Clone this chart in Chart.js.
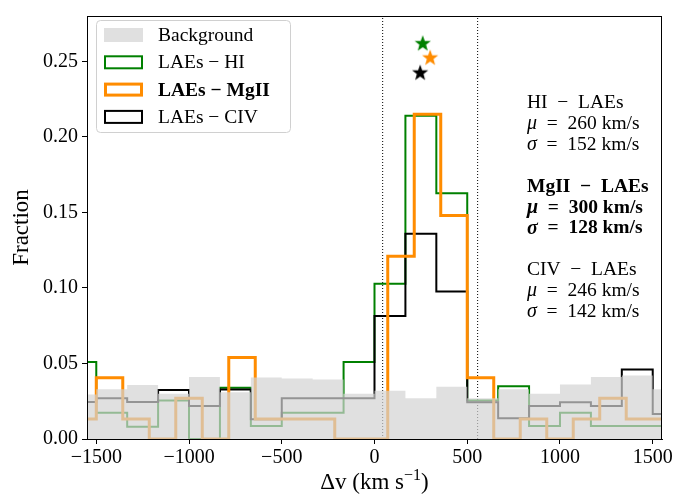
<!DOCTYPE html>
<html lang="en">
<head>
<meta charset="UTF-8" />
<title>LAE velocity offsets</title>
<script src="https://cdn.jsdelivr.net/npm/chart.js"></script>
<style>
  * { margin: 0; padding: 0; }
  html, body { width: 676px; height: 497px; background: #fff; overflow: hidden; }
  #wrap { position: relative; width: 676px; height: 497px; }
</style>
</head>
<body>
<div id="wrap"><canvas id="chart" width="676" height="497"></canvas></div>
<script>
// histogram bins: 166.7 km/s for Background, HI and CIV; 142.9 km/s for MgII
const wideStart = -1666.67, wideWidth = 3000 / 18;
const mgStart = -1642.86, mgWidth = 3000 / 21;

const bgFrac  = [0.0295, 0.033, 0.0357, 0.030, 0.041, 0.031, 0.0407, 0.040, 0.0394, 0.030,
                 0.032, 0.027, 0.0346, 0.027, 0.033, 0.030, 0.036, 0.041, 0.042, 0.033];
const hiFrac  = [0.051, 0.0174, 0.0081, 0.0255, 0, 0.034, 0.0086, 0.0174, 0.0174, 0.051,
                 0.1028, 0.214, 0.1627, 0.0255, 0.035, 0.0086, 0.0174, 0.0086, 0.0086, 0.0086];
const civFrac = [0.0245, 0.027, 0.0245, 0.0324, 0.0218, 0.0328, 0.013, 0.0269, 0.0269, 0.0269,
                 0.0815, 0.1359, 0.0977, 0.0244, 0.0137, 0.0218, 0.0244, 0.0218, 0.046, 0.0165];
const mgFrac  = [0.0132, 0.0405, 0.0132, 0, 0.0269, 0, 0.054, 0.0133, 0.0133, 0.0133, 0, 0,
                 0.121, 0.215, 0.148, 0.0405, 0, 0.0132, 0, 0.0132, 0.0269, 0.0132, 0.0132];

const xTicks = [-1500, -1000, -500, 0, 500, 1000, 1500];
const yTicks = [0, 0.05, 0.10, 0.15, 0.20, 0.25];

// mean offsets (stars) and MgII 2-sigma window (dotted lines)
const lineNames = ['HI', 'MgII', 'CIV'];
const meanV  = [260, 300, 246];
const sigmaV = [152, 128, 142];
const starY  = [0.262, 0.2525, 0.2426];
const windowV = [44, 556];

const SERIF = "'Liberation Serif', 'DejaVu Serif', serif";
const BG_FILL = 'rgba(211,211,211,0.7)';

function steps(start, width, vals) {
  const pts = vals.map((v, i) => ({ x: start + i * width, y: v }));
  pts.push({ x: start + vals.length * width, y: vals[vals.length - 1] });
  return pts;
}

function starImage(color) {
  const c = document.createElement('canvas');
  c.width = c.height = 18;
  const g = c.getContext('2d');
  g.beginPath();
  for (let i = 0; i < 10; i++) {
    const r = i % 2 ? 3.5 : 8.5;
    const a = -Math.PI / 2 + i * Math.PI / 5;
    g.lineTo(9 + r * Math.cos(a), 9.5 + r * Math.sin(a));
  }
  g.closePath();
  g.fillStyle = color;
  g.fill();
  return c;
}

const stepStyle = { stepped: true, pointRadius: 0, fill: false, tension: 0 };

const legendItems = [
  { label: 'Background', fill: BG_FILL },
  { label: 'LAEs − HI', color: 'green', width: 2 },
  { label: 'LAEs − MgII', color: 'darkorange', width: 3, bold: true },
  { label: 'LAEs − CIV', color: 'black', width: 2 }
];

// draws a row of [text, fontStyle, size, raise] pieces starting at x
function runs(ctx, x, y, parts) {
  parts.forEach(p => {
    ctx.font = p[1] + ' ' + p[2] + 'px ' + SERIF;
    ctx.fillText(p[0], x, y - (p[3] || 0));
    x += ctx.measureText(p[0]).width;
  });
  return x;
}
function runsWidth(ctx, parts) {
  let w = 0;
  parts.forEach(p => { ctx.font = p[1] + ' ' + p[2] + 'px ' + SERIF; w += ctx.measureText(p[0]).width; });
  return w;
}

// frame, legend box, stats text and x-axis label
const overlay = {
  id: 'overlay',
  afterDraw(chart) {
    const ctx = chart.ctx, a = chart.chartArea;
    ctx.save();
    ctx.strokeStyle = '#000';
    ctx.lineWidth = 1;
    ctx.strokeRect(a.left + 0.5, a.top + 0.5, a.right - a.left - 1, a.bottom - a.top);

    // legend
    ctx.fillStyle = 'rgba(255,255,255,0.8)';
    ctx.strokeStyle = '#d0d0d0';
    ctx.beginPath();
    ctx.roundRect(96.5, 20.5, 194, 112, 4);
    ctx.fill();
    ctx.stroke();
    legendItems.forEach((it, i) => {
      const cy = 35 + i * 27.3;
      if (it.fill) {
        ctx.fillStyle = it.fill;
        ctx.fillRect(104, cy - 7, 39, 14);
      } else {
        ctx.strokeStyle = it.color;
        ctx.lineWidth = it.width;
        ctx.strokeRect(104 + it.width / 2, cy - 7 + it.width / 2, 39 - it.width, 14 - it.width);
      }
      ctx.fillStyle = '#000';
      ctx.font = (it.bold ? 'bold ' : '') + '19.5px ' + SERIF;
      ctx.textBaseline = 'middle';
      ctx.textAlign = 'left';
      ctx.fillText(it.label, 158, cy + 1);
    });

    // stats block
    ctx.textBaseline = 'middle';
    lineNames.forEach((name, k) => {
      const b = name === 'MgII' ? 'bold' : '';
      const y0 = 103 + k * 4 * 20.9;
      runs(ctx, 527, y0, [[name + '  −  LAEs', b, 19.5]]);
      runs(ctx, 527, y0 + 20.9, [['μ', 'italic ' + b, 20], ['  =  ' + meanV[k] + ' km/s', b, 19.5]]);
      runs(ctx, 527, y0 + 41.8, [['σ', 'italic ' + b, 20], ['  =  ' + sigmaV[k] + ' km/s', b, 19.5]]);
    });

    // x-axis label with superscript
    const xl = [['Δv (km s', '', 23], ['−1', '', 16, 9], [')', '', 23]];
    ctx.textBaseline = 'alphabetic';
    runs(ctx, (a.left + a.right) / 2 - runsWidth(ctx, xl) / 2, 489, xl);
    ctx.restore();
  }
};

const vline = v => ({
  type: 'line',
  data: [{ x: v, y: 0 }, { x: v, y: 0.28 }],
  borderColor: '#000', borderWidth: 1, borderDash: [1, 2],
  pointRadius: 0, fill: false, order: 5
});

const datasets = [
  Object.assign({ label: 'Background', data: steps(wideStart, wideWidth, bgFrac),
    borderWidth: 0, borderColor: 'rgba(0,0,0,0)', backgroundColor: BG_FILL, order: 0 }, stepStyle, { fill: 'origin' }),
  Object.assign({ label: 'LAEs − HI', data: steps(wideStart, wideWidth, hiFrac),
    borderColor: 'green', borderWidth: 2, order: 3 }, stepStyle),
  Object.assign({ label: 'LAEs − CIV', data: steps(wideStart, wideWidth, civFrac),
    borderColor: '#000', borderWidth: 2, order: 2 }, stepStyle),
  Object.assign({ label: 'LAEs − MgII', data: steps(mgStart, mgWidth, mgFrac),
    borderColor: 'darkorange', borderWidth: 3, order: 1 }, stepStyle),
  vline(windowV[0]),
  vline(windowV[1])
];
['green', 'darkorange', '#000'].forEach((c, k) => {
  datasets.push({
    type: 'scatter',
    data: [{ x: meanV[k], y: starY[k] }],
    pointStyle: starImage(c), pointRadius: 9, order: -1
  });
});

new Chart(document.getElementById('chart'), {
  type: 'line',
  data: { datasets },
  plugins: [overlay],
  options: {
    responsive: false,
    animation: false,
    devicePixelRatio: 1,
    layout: { padding: { left: 0, right: 14, top: 15, bottom: 0 } },
    plugins: { legend: { display: false }, tooltip: { enabled: false } },
    scales: {
      x: {
        type: 'linear', min: -1550, max: 1550,
        afterBuildTicks: s => { s.ticks = xTicks.map(v => ({ value: v })); },
        afterFit: s => { s.height = 58; },
        ticks: {
          color: '#000', padding: 2, maxRotation: 0,
          font: { family: SERIF, size: 20 },
          callback: v => (v < 0 ? '−' + Math.abs(v) : String(v))
        },
        grid: { drawOnChartArea: false, tickLength: 5, color: '#000' },
        border: { color: '#000' }
      },
      y: {
        min: 0, max: 0.28,
        afterBuildTicks: s => { s.ticks = yTicks.map(v => ({ value: v })); },
        afterFit: s => { s.width = 87; },
        ticks: {
          color: '#000', padding: 4,
          font: { family: SERIF, size: 20 },
          callback: v => v.toFixed(2)
        },
        grid: { drawOnChartArea: false, tickLength: 5, color: '#000' },
        border: { color: '#000' },
        title: { display: true, text: 'Fraction', color: '#000',
                 font: { family: SERIF, size: 23 }, padding: { top: 8, bottom: 0 } }
      }
    }
  }
});
</script>
</body>
</html>
